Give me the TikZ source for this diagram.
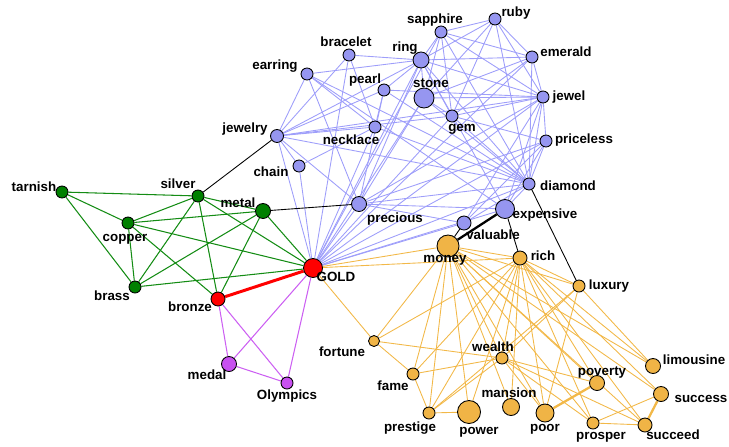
\documentclass[tikz,border=0pt]{standalone}
\usepackage{fontspec}
\setmainfont{Liberation Sans}
\usetikzlibrary{backgrounds}

\definecolor{bfill}{RGB}{150,150,240}
\definecolor{bline}{RGB}{158,158,250}
\definecolor{ofill}{RGB}{240,180,70}
\definecolor{oline}{RGB}{242,184,72}
\definecolor{gfill}{RGB}{0,128,0}
\definecolor{gline}{RGB}{20,140,20}
\definecolor{pfill}{RGB}{200,80,240}
\definecolor{pline}{RGB}{204,96,242}

\tikzset{
  vtx/.style={circle, draw=black, line width=0.5pt, inner sep=0pt, minimum size=#1*0.02cm},
  bv/.style={vtx=#1, fill=bfill}, bv/.default=12,
  ov/.style={vtx=#1, fill=ofill}, ov/.default=12,
  gv/.style={vtx=#1, fill=gfill}, gv/.default=12,
  rv/.style={vtx=#1, fill=red}, rv/.default=14,
  pv/.style={vtx=#1, fill=pfill}, pv/.default=12,
  lab/.style={anchor=mid, inner sep=0pt, font=\fontsize{7.6}{9}\selectfont\bfseries},
  bedge/.style={draw=bline, line width=0.5pt},
  oedge/.style={draw=oline, line width=0.5pt},
  gedge/.style={draw=gline, line width=0.6pt},
  pedge/.style={draw=pline, line width=0.6pt},
  kedge/.style={draw=black, line width=0.5pt}
}

\begin{document}
\begin{tikzpicture}[x=0.02cm, y=-0.02cm]
  \useasboundingbox (0,0) rectangle (729,446);

  % jewels
  \node[bv] (sapphire) at (441,32) {};
  \node[bv] (ruby) at (495,19) {};
  \node[bv=16] (ring) at (421,60) {};
  \node[bv] (bracelet) at (349,55) {};
  \node[bv] (earring) at (307,74) {};
  \node[bv] (pearl) at (384,90) {};
  \node[bv=20] (stone) at (424,98) {};
  \node[bv] (gem) at (452,116) {};
  \node[bv] (emerald) at (532,57) {};
  \node[bv] (jewel) at (543,97) {};
  \node[bv] (priceless) at (546,141) {};
  \node[bv] (diamond) at (529,184) {};
  \node[bv] (necklace) at (375,127) {};
  \node[bv=13] (jewelry) at (277,136) {};
  \node[bv] (chain) at (299,166) {};
  \node[bv=15] (precious) at (359,204) {};
  \node[bv=19] (expensive) at (505,209) {};
  \node[bv=14] (valuable) at (464,223) {};

  % money
  \node[ov=22] (money) at (448,246) {};
  \node[ov=14] (rich) at (520,258) {};
  \node[ov] (luxury) at (579,286) {};
  \node[ov=11] (fortune) at (374,341) {};
  \node[ov] (wealth) at (502,358) {};
  \node[ov] (fame) at (413,374) {};
  \node[ov=15] (limousine) at (653,366) {};
  \node[ov=15] (poverty) at (597,383) {};
  \node[ov=15] (success) at (661,394) {};
  \node[ov=17] (mansion) at (511,407) {};
  \node[ov] (prestige) at (429,413) {};
  \node[ov=23] (power) at (469,412) {};
  \node[ov=18] (poor) at (545,413) {};
  \node[ov] (prosper) at (593,423) {};
  \node[ov=14] (succeed) at (645,425) {};

  % metals
  \node[gv] (tarnish) at (62,192) {};
  \node[gv] (silver) at (198,196) {};
  \node[gv=15] (metal) at (263,211) {};
  \node[gv] (copper) at (128,223) {};
  \node[gv] (brass) at (135,287) {};
  \node[rv=19] (GOLD) at (313,268) {};
  \node[rv] (bronze) at (218,299) {};
  \node[pv=15] (medal) at (229,364) {};
  \node[pv] (Olympics) at (287,383) {};

  \begin{scope}[on background layer]
  \foreach \a/\b in {GOLD/jewelry, GOLD/chain, GOLD/bracelet, GOLD/necklace, GOLD/ring,
      GOLD/stone, GOLD/gem, GOLD/sapphire, GOLD/emerald, GOLD/jewel, GOLD/priceless,
      GOLD/diamond, GOLD/precious, GOLD/expensive, GOLD/valuable,
      diamond/jewelry, diamond/earring, diamond/necklace, diamond/pearl, diamond/ring,
      diamond/stone, diamond/gem, diamond/sapphire, diamond/ruby, diamond/emerald,
      diamond/jewel, diamond/priceless, diamond/precious, diamond/expensive, diamond/valuable,
      jewelry/earring, jewelry/bracelet, jewelry/pearl, jewelry/necklace, jewelry/chain,
      jewelry/ring, jewelry/jewel, jewelry/gem, jewelry/precious,
      earring/necklace, earring/expensive, earring/ring, earring/precious,
      bracelet/ring, bracelet/necklace, chain/necklace,
      pearl/necklace, pearl/ring, pearl/precious, pearl/jewel,
      ring/sapphire, ring/ruby, ring/emerald, ring/stone, ring/gem, ring/jewel,
      ring/precious, ring/expensive,
      stone/jewel, stone/gem, stone/sapphire, stone/ruby, stone/precious, stone/emerald,
      gem/sapphire, gem/ruby, gem/emerald, gem/jewel, gem/priceless,
      sapphire/ruby, sapphire/emerald, sapphire/jewel, ruby/emerald, ruby/jewel,
      emerald/jewel, jewel/priceless, jewel/precious, jewel/expensive, jewel/valuable,
      priceless/precious, priceless/expensive, priceless/valuable,
      precious/valuable, precious/expensive}
    \draw[bedge] (\a) -- (\b);

  \foreach \a/\b in {GOLD/money, GOLD/rich, GOLD/fortune,
      money/fortune, money/fame, money/prestige, money/power, money/wealth, money/mansion,
      money/poor, money/prosper, money/poverty, money/rich, money/luxury, money/success,
      money/limousine, money/succeed,
      rich/fortune, rich/fame, rich/prestige, rich/power, rich/wealth, rich/mansion,
      rich/poor, rich/poverty, rich/prosper, rich/success, rich/succeed, rich/limousine,
      rich/luxury,
      luxury/limousine, luxury/wealth, luxury/prestige, luxury/poor,
      fortune/fame, fortune/wealth, fame/prestige, fame/wealth,
      wealth/prestige, wealth/poverty, wealth/prosper, wealth/succeed, wealth/poor,
      prestige/power, prosper/succeed, prosper/success}
    \draw[oedge] (\a) -- (\b);
  \draw[oedge, line width=1.3pt] (poor) -- (poverty);
  \draw[oedge, line width=1.3pt] (success) -- (succeed);

  \foreach \a/\b in {tarnish/silver, tarnish/copper, tarnish/brass, silver/copper,
      silver/metal, silver/brass, silver/bronze, silver/GOLD, copper/metal, copper/brass,
      copper/GOLD, copper/bronze, metal/brass, metal/bronze, metal/GOLD, brass/GOLD}
    \draw[gedge] (\a) -- (\b);

  \foreach \a/\b in {bronze/medal, bronze/Olympics, GOLD/medal, GOLD/Olympics, medal/Olympics}
    \draw[pedge] (\a) -- (\b);

  \draw[red, line width=1.7pt] (bronze) -- (GOLD);
  \draw[kedge] (jewelry) -- (silver);
  \draw[kedge] (metal) -- (precious);
  \draw[kedge] (valuable) -- (money);
  \draw[kedge] (expensive) -- (rich);
  \draw[kedge] (diamond) -- (luxury);
  \draw[kedge, line width=1.3pt] (expensive) -- (money);
  \end{scope}

  % labels
  \node[lab] (l-sapphire) at (435,19) {sapphire};
  \node[lab] (l-ruby) at (516,12) {ruby};
  \node[lab] (l-ring) at (405,47) {ring};
  \node[lab] (l-bracelet) at (346,42) {bracelet};
  \node[lab] (l-earring) at (275,65) {earring};
  \node[lab] (l-pearl) at (365,79) {pearl};
  \node[lab] (l-stone) at (431,83) {stone};
  \node[lab] (l-gem) at (462,127) {gem};
  \node[lab] (l-emerald) at (566,52) {emerald};
  \node[lab] (l-jewel) at (569,96) {jewel};
  \node[lab] (l-priceless) at (584,139) {priceless};
  \node[lab] (l-diamond) at (568,186) {diamond};
  \node[lab] (l-necklace) at (351,140) {necklace};
  \node[lab] (l-jewelry) at (245,128) {jewelry};
  \node[lab] (l-chain) at (271,172) {chain};
  \node[lab] (l-precious) at (395,218) {precious};
  \node[lab] (l-expensive) at (545,214) {expensive};
  \node[lab] (l-valuable) at (493,235) {valuable};
  \node[lab] (l-money) at (445,258) {money};
  \node[lab] (l-rich) at (543,256) {rich};
  \node[lab] (l-luxury) at (609,285) {luxury};
  \node[lab] (l-GOLD) at (336,277) {GOLD};
  \node[lab] (l-fortune) at (342,352) {fortune};
  \node[lab] (l-wealth) at (493,347) {wealth};
  \node[lab] (l-fame) at (393,386) {fame};
  \node[lab] (l-limousine) at (694,360) {limousine};
  \node[lab] (l-poverty) at (602,371) {poverty};
  \node[lab] (l-success) at (701,398) {success};
  \node[lab] (l-mansion) at (509,393) {mansion};
  \node[lab] (l-prestige) at (410,427) {prestige};
  \node[lab] (l-power) at (479,430) {power};
  \node[lab] (l-poor) at (545,427) {poor};
  \node[lab] (l-prosper) at (601,435) {prosper};
  \node[lab] (l-succeed) at (673,435) {succeed};
  \node[lab] (l-tarnish) at (34,187) {tarnish};
  \node[lab] (l-silver) at (178,184) {silver};
  \node[lab] (l-metal) at (238,203) {metal};
  \node[lab] (l-copper) at (125,237) {copper};
  \node[lab] (l-brass) at (112,296) {brass};
  \node[lab] (l-bronze) at (190,307) {bronze};
  \node[lab] (l-medal) at (207,375) {medal};
  \node[lab] (l-Olympics) at (287,395) {Olympics};
\end{tikzpicture}
\end{document}
